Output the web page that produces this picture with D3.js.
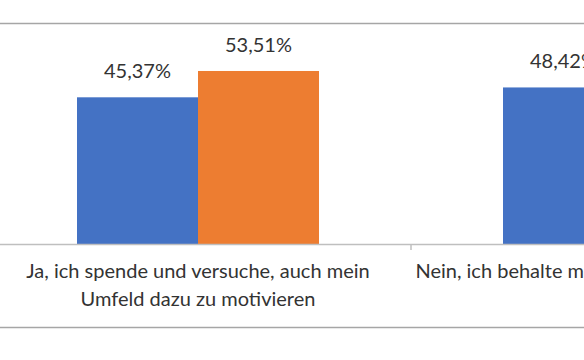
<!DOCTYPE html>
<html><head><meta charset="utf-8">
<script src="https://cdn.jsdelivr.net/npm/d3@7"></script>
<style>html,body{margin:0;padding:0;background:#fff;overflow:hidden}</style>
</head><body>
<svg id="c" width="584" height="360"></svg>
<script>
const categories = [
  ["Ja, ich spende und versuche, auch mein", "Umfeld dazu zu motivieren"],
  ["Nein, ich behalte mein Geld lieber für mich, weil"]
];
const seriesNames = ["Serie 1", "Serie 2"];
const series1 = [45.37, 48.42];
const series2 = [53.51, 46.12];
const colors = ["#4472C4", "#ED7D31"];

const svg = d3.select("#c");
const font = "Lato, 'Open Sans', sans-serif";
const txt = "#333333";

// chart border (cropped)
svg.append("rect").attr("x", -10).attr("y", 23.5).attr("width", 610).attr("height", 304)
  .attr("fill", "none").attr("stroke", "#a6a6a6").attr("stroke-width", 1.5);

const x0 = d3.scaleBand().domain(d3.range(categories.length)).range([-15, 837]).paddingInner(0).paddingOuter(0);
const groupW = 242;
const x1 = d3.scaleBand().domain([0, 1]).range([0, groupW]);
const y = d3.scaleLinear().domain([0, 60]).range([244, 50]);

const data = categories.map((c, i) => ({ i, vals: [series1[i], series2[i]] }));

const g = svg.selectAll("g.cat").data(data).join("g")
  .attr("transform", d => `translate(${x0(d.i) + (x0.bandwidth() - groupW) / 2},0)`);

g.selectAll("rect").data(d => d.vals.map((v, k) => ({ v, k }))).join("rect")
  .attr("x", d => x1(d.k)).attr("width", x1.bandwidth())
  .attr("y", d => y(d.v)).attr("height", d => y(0) - y(d.v))
  .attr("fill", d => colors[d.k]);

g.selectAll("text.lbl").data(d => d.vals.map((v, k) => ({ v, k }))).join("text")
  .attr("class", "lbl")
  .attr("x", d => x1(d.k) + x1.bandwidth() / 2)
  .attr("y", d => y(d.v) - 19)
  .attr("text-anchor", "middle")
  .attr("font-family", font).attr("font-size", 20).attr("fill", txt)
  .text(d => d.v.toFixed(2).replace(".", ",") + "%");

// axis
const axis = d3.axisBottom(x0).tickSize(0).tickFormat("");
const ax = svg.append("g").attr("transform", "translate(0,244)").call(axis);
ax.select(".domain").attr("stroke", "#bfbfbf").attr("stroke-width", 1.5);
ax.selectAll(".sep").data(d3.range(1, categories.length)).join("line")
  .attr("x1", d => x0(d)).attr("x2", d => x0(d)).attr("y1", 0).attr("y2", 6)
  .attr("stroke", "#bfbfbf").attr("stroke-width", 1.5);

// category labels
categories.forEach((lines, i) => {
  const t = svg.append("text").attr("text-anchor", "middle")
    .attr("font-family", font).attr("font-size", 20).attr("fill", txt);
  lines.forEach((l, j) => t.append("tspan")
    .attr("x", x0(i) + x0.bandwidth() / 2).attr("y", 278 + j * 28).text(l));
});
</script>
</body></html>
